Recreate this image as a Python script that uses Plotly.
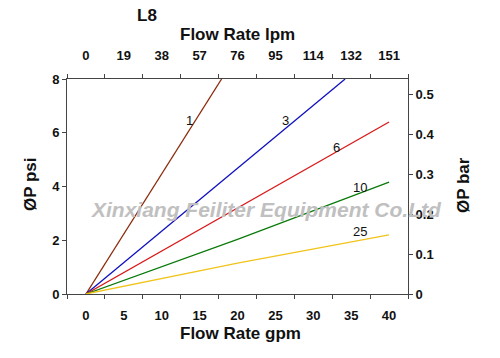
import plotly.graph_objects as go

# ---- data ----
gpm_ticks = [0, 5, 10, 15, 20, 25, 30, 35, 40]
lpm_labels = ["0", "19", "38", "57", "76", "95", "114", "132", "151"]
psi_ticks = [0, 2, 4, 6, 8]
bar_ticks = [0, 0.1, 0.2, 0.3, 0.4, 0.5]
bar_labels = ["0", "0.1", "0.2", "0.3", "0.4", "0.5"]
between_ticks = [-2.5, 2.5, 7.5, 12.5, 17.5, 22.5, 27.5, 32.5, 37.5, 42.5]

names = ["1", "3", "6", "10", "25"]
flow_1 = [0, 17.9]
dp_1 = [0, 8.0]
flow_3 = [0, 34.2]
dp_3 = [0, 8.0]
flow_6 = [0, 20, 40]
dp_6 = [0, 3.2, 6.4]
flow_10 = [0, 20, 40]
dp_10 = [0, 2.03, 4.16]
flow_25 = [0, 20, 40]
dp_25 = [0, 1.15, 2.2]
colors = ["#8B2A0A", "#1010C0", "#D81818", "#0A7A0A", "#F0C419"]

label_x = [13.6, 26.3, 33.0, 36.2, 36.2]
label_y = [6.47, 6.47, 5.46, 3.97, 2.34]

FONT = "Liberation Sans, Arial, sans-serif"
W, H = 500, 358
L, R, T, B = 67, 92, 79, 64
PW, PH = W - L - R, H - T - B

fig = go.Figure()
series = [(flow_1, dp_1), (flow_3, dp_3), (flow_6, dp_6), (flow_10, dp_10), (flow_25, dp_25)]
for (fx, fy), c, n in zip(series, colors, names):
    fig.add_trace(go.Scatter(x=fx, y=fy, mode="lines", line=dict(color=c, width=1.3),
                             name=n, showlegend=False, hoverinfo="skip"))

# invisible trace to activate overlay axes
fig.add_trace(go.Scatter(x=[0], y=[0], xaxis="x2", yaxis="y2", mode="markers",
                         marker=dict(opacity=0), showlegend=False, hoverinfo="skip"))

for lx, ly, n in zip(label_x, label_y, names):
    fig.add_annotation(x=lx, y=ly, text=n, showarrow=False,
                       font=dict(family=FONT, size=13, color="#111"))

title_font = dict(family=FONT, size=17, color="#111", weight="bold")


def pix(text, px, py, angle=0, font=title_font):
    fig.add_annotation(x=(px - L) / PW, y=(H - B - py) / PH, xref="paper", yref="paper",
                       xanchor="center", yanchor="middle", text=text, showarrow=False,
                       textangle=angle, font=font)


pix("<b><i>Xinxiang Feiliter Equipment Co.Ltd</i></b>", 266, 209,
    font=dict(family=FONT, size=21, color="#C0C0C0"))
pix("Flow Rate lpm", 237, 34)
pix("Flow Rate gpm", 240, 333)
pix("ØP psi", 30, 184, -90)
pix("ØP bar", 463, 185, -90)
pix("L8", 147, 15)

axis_line = "#444"
tick_font = dict(family=FONT, size=13, color="#111", weight="bold")

fig.update_layout(
    width=W, height=H,
    margin=dict(l=L, r=R, t=T, b=B, autoexpand=False),
    plot_bgcolor="white", paper_bgcolor="white",
    xaxis=dict(range=[-2.5, 42.5], tickmode="array", tickvals=gpm_ticks,
               ticktext=[str(v) for v in gpm_ticks], ticks="", showgrid=False, zeroline=False,
               showline=True, linecolor=axis_line, linewidth=1, automargin=False,
               tickfont=tick_font, ticklabelstandoff=9,
               minor=dict(tickmode="array", tickvals=between_ticks, ticks="outside",
                          ticklen=4, tickcolor=axis_line, showgrid=False)),
    xaxis2=dict(range=[-2.5, 42.5], overlaying="x", side="top", anchor="y",
                tickmode="array", tickvals=gpm_ticks, ticktext=lpm_labels, ticks="",
                showgrid=False, zeroline=False, showline=True, linecolor=axis_line, linewidth=1,
                automargin=False, tickfont=tick_font, ticklabelstandoff=13,
                minor=dict(tickmode="array", tickvals=between_ticks, ticks="outside",
                           ticklen=4, tickcolor=axis_line, showgrid=False)),
    yaxis=dict(range=[0, 8], tickmode="array", tickvals=psi_ticks, ticks="outside", ticklen=4,
               tickcolor=axis_line, showgrid=False, zeroline=False, showline=True,
               linecolor=axis_line, linewidth=1, tickfont=tick_font, automargin=False),
    yaxis2=dict(range=[0, 0.54], overlaying="y", side="right", anchor="x", tickmode="array",
                tickvals=bar_ticks, ticktext=bar_labels, ticks="outside", ticklen=4,
                tickcolor=axis_line, showgrid=False, zeroline=False, showline=True,
                linecolor=axis_line, linewidth=1, tickfont=tick_font, automargin=False),
)

fig.write_html("out.html", config={"displayModeBar": False},
               post_script="document.body.style.margin='0';")
